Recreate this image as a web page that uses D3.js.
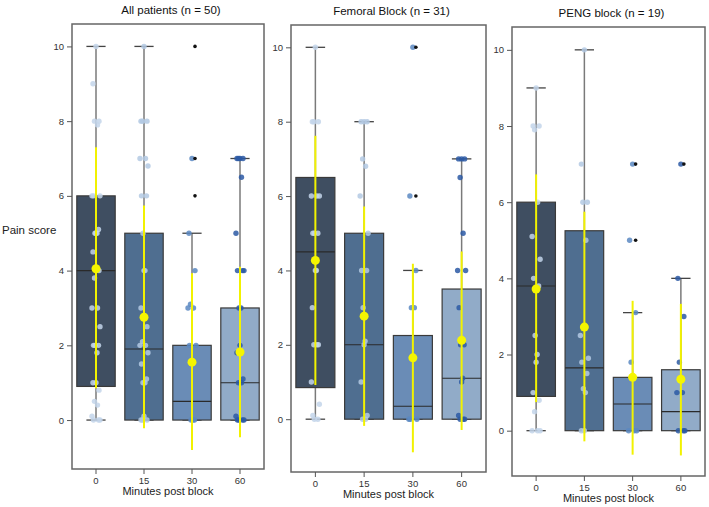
<!DOCTYPE html>
<html>
<head>
<meta charset="utf-8">
<title>Pain score boxplots</title>
<script src="https://d3js.org/d3.v7.min.js"></script>
<style>
    body { margin: 0; background: #fff; }
    svg { font-family: "Liberation Sans", Arial, sans-serif; }
    .tick text { fill: #333; font-size: 9.5px; }
    .tick line { stroke: #555; }
    .title { font-size: 11.5px; fill: #111; text-anchor: middle; }
    .axis-label { font-size: 11px; fill: #222; }
</style>
</head>
<body>
<div id="chart"></div>
<script>
// time points (x categories)
const times = ["0", "15", "30", "60"];
const yTicks = [0, 2, 4, 6, 8, 10];
const panelTitles = ["All patients (n = 50)", "Femoral Block (n = 31)", "PENG block (n = 19)"];

// box stats per panel: [q1, median, q3, whiskerLow, whiskerHigh] for each time point
const allBoxes = [[0.9, 4.0, 6.0, 0, 10], [0, 1.9, 5.0, 0, 10], [0, 0.5, 2.0, 0, 5], [0, 1.0, 3.0, 0, 7]];
const femBoxes = [[0.85, 4.5, 6.5, 0, 10], [0, 2.0, 5.0, 0, 8], [0, 0.35, 2.25, 0, 4], [0, 1.1, 3.5, 0, 7]];
const pengBoxes = [[0.9, 3.8, 6.0, 0, 9], [0, 1.65, 5.25, 0, 10], [0, 0.7, 1.4, 0, 3.1], [0, 0.5, 1.6, 0, 4]];

// mean and yellow bar ends: [mean, low, high]
const allMeans = [[4.05, 0.85, 7.3], [2.75, -0.22, 5.74], [1.55, -0.8, 3.93], [1.82, -0.46, 4.1]];
const femMeans = [[4.27, 0.92, 7.62], [2.77, -0.18, 5.72], [1.65, -0.89, 4.18], [2.12, -0.29, 4.51]];
const pengMeans = [[3.72, 0.75, 6.73], [2.72, -0.28, 5.75], [1.4, -0.63, 3.41], [1.35, -0.65, 3.33]];

// outliers
const allOutliers = [[], [], [10, 7, 6], []];
const femOutliers = [[], [], [10, 6], []];
const pengOutliers = [[], [], [7, 5], [7]];

// individual patient scores
const allPoints = [
    [10, 9, 8, 8, 7.9, 6, 6, 6, 5.1, 5, 5, 5, 4.5, 4, 3.8, 3, 3, 2.5, 2, 2, 2, 1.8, 1, 1, 0.8, 0.5, 0.4, 0.1, 0, 0, 0],
    [10, 8, 8, 8, 7, 7, 6.8, 6, 6, 5, 4, 4, 3, 2.5, 2.1, 2, 2, 1.8, 1.5, 1.1, 1, 1, 0.1, 0, 0, 0],
    [7, 5, 4, 3.1, 3, 3, 2, 2, 0, 0, 0],
    [7, 7, 7, 7, 6.5, 5, 4, 4, 4, 3, 3, 2, 1.8, 1.1, 1, 1, 0.1, 0, 0, 0, 0]
];
const femPoints = [
    [10, 8, 8, 8, 6, 6, 6, 5, 5, 5, 4, 4, 3, 2, 2, 2, 1, 0.4, 0.1, 0, 0],
    [8, 8, 8, 7, 6.8, 6, 5, 4, 4, 3, 2.1, 2, 1, 0.1, 0, 0],
    [10, 6, 4, 3, 3, 0, 0, 0],
    [7, 7, 7, 6.5, 5, 4, 4, 3, 2, 2, 1.1, 1, 0.1, 0, 0, 0]
];
const pengPoints = [
    [9, 8, 8, 7.9, 6, 5.1, 4.5, 4, 3.8, 2.5, 2, 1.8, 1, 0.8, 0.5, 0, 0, 0],
    [10, 7, 6, 6, 5, 2.5, 1.9, 1.8, 1.5, 1.1, 1, 0, 0],
    [7, 5, 3.1, 1.8, 0, 0, 0],
    [7, 4, 3, 1.8, 1, 1, 0, 0, 0]
];

const boxColors = ["#3f4e61", "#4f6e90", "#6a8cb6", "#91abc8"];
const dotColors = ["#c3d5ea", "#b3c9e3", "#5a88c2", "#2b59a4"];
const jitter = [0, -3, 3, -1.5, 1.5, -4, 4, -2.5, 2.5, -1, 1];

const panels = [
    { title: panelTitles[0], boxes: allBoxes, means: allMeans, outliers: allOutliers, points: allPoints,
      left: 72, right: 264, top: 24, bottom: 469, yMin: -1.31 },
    { title: panelTitles[1], boxes: femBoxes, means: femMeans, outliers: femOutliers, points: femPoints,
      left: 291, right: 486, top: 25, bottom: 472, yMin: -1.42 },
    { title: panelTitles[2], boxes: pengBoxes, means: pengMeans, outliers: pengOutliers, points: pengPoints,
      left: 512, right: 705, top: 27, bottom: 476, yMin: -1.19 }
];

const svg = d3.select("#chart").append("svg")
    .attr("width", 709)
    .attr("height", 507);

svg.append("text")
    .attr("class", "axis-label")
    .attr("x", 2)
    .attr("y", 234)
    .style("font-size", "11.5px")
    .text("Pain score");

panels.forEach(p => {
    const x = d3.scaleBand().domain(times).range([p.left, p.right]).padding(0);
    const y = d3.scaleLinear().domain([p.yMin, 10.6]).range([p.bottom, p.top]);
    const bw = x.bandwidth() * 0.8;
    const cx = t => x(t) + x.bandwidth() / 2;
    const g = svg.append("g");

    // frame
    g.append("rect")
        .attr("x", p.left).attr("y", p.top)
        .attr("width", p.right - p.left).attr("height", p.bottom - p.top)
        .attr("fill", "none").attr("stroke", "#666").attr("stroke-width", 1.5);

    // axes
    g.append("g")
        .attr("transform", "translate(" + p.left + ",0)")
        .call(d3.axisLeft(y).tickValues(yTicks).tickSize(5).tickPadding(3))
        .call(a => a.select(".domain").remove());
    g.append("g")
        .attr("transform", "translate(0," + p.bottom + ")")
        .call(d3.axisBottom(x).tickSize(5).tickPadding(3))
        .call(a => a.select(".domain").remove());

    g.append("text")
        .attr("class", "title")
        .attr("x", (p.left + p.right) / 2 + 3)
        .attr("y", p.top - 10)
        .text(p.title);

    g.append("text")
        .attr("class", "axis-label")
        .attr("text-anchor", "middle")
        .attr("x", (p.left + p.right) / 2)
        .attr("y", p.bottom + 26)
        .text("Minutes post block");

    times.forEach((t, i) => {
        const [q1, med, q3, lo, hi] = p.boxes[i];
        const c = cx(t);

        // whiskers
        g.append("line").attr("x1", c).attr("x2", c).attr("y1", y(q3)).attr("y2", y(hi))
            .attr("stroke", "#7a7a7a").attr("stroke-width", 1.5);
        g.append("line").attr("x1", c).attr("x2", c).attr("y1", y(q1)).attr("y2", y(lo))
            .attr("stroke", "#7a7a7a").attr("stroke-width", 1.5);
        [lo, hi].forEach(v => {
            g.append("line").attr("x1", c - bw * 0.25).attr("x2", c + bw * 0.25)
                .attr("y1", y(v)).attr("y2", y(v))
                .attr("stroke", "#444").attr("stroke-width", 1.3);
        });

        // box
        g.append("rect")
            .attr("x", c - bw / 2).attr("y", y(q3))
            .attr("width", bw).attr("height", Math.max(0, y(q1) - y(q3)))
            .attr("fill", boxColors[i]).attr("stroke", "#3a3a3a").attr("stroke-width", 1.2);
        g.append("line").attr("x1", c - bw / 2).attr("x2", c + bw / 2)
            .attr("y1", y(med)).attr("y2", y(med))
            .attr("stroke", "#2a2a2a").attr("stroke-width", 1.1);

        // points
        g.append("g").selectAll("circle")
            .data(p.points[i])
            .join("circle")
            .attr("cx", (d, k) => c + jitter[k % jitter.length])
            .attr("cy", d => y(d))
            .attr("r", 2.7)
            .attr("fill", dotColors[i])
            .attr("fill-opacity", 0.85);

        // outliers
        g.append("g").selectAll("circle")
            .data(p.outliers[i])
            .join("circle")
            .attr("cx", c + 3)
            .attr("cy", d => y(d))
            .attr("r", 1.8)
            .attr("fill", "#111");

        // mean +/- sd
        const [m, mlo, mhi] = p.means[i];
        g.append("line").attr("x1", c).attr("x2", c).attr("y1", y(mlo)).attr("y2", y(mhi))
            .attr("stroke", "#f2f200").attr("stroke-width", 2);
        g.append("circle").attr("cx", c).attr("cy", y(m)).attr("r", 4.5)
            .attr("fill", "#f5f500");
    });
});
</script>
</body>
</html>
